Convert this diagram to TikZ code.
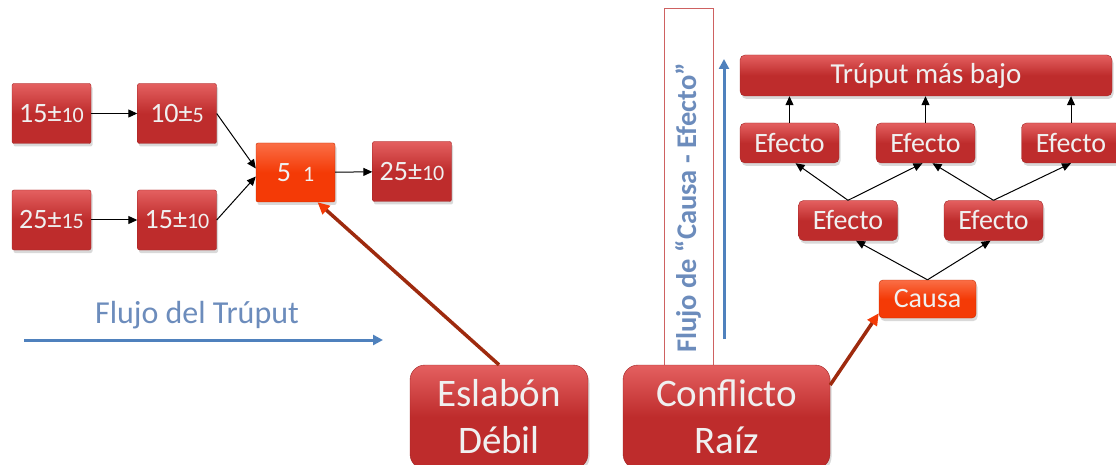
\documentclass[tikz,border=0pt]{standalone}
\usepackage{fontspec}
\setmainfont{Carlito}
\usetikzlibrary{arrows.meta,shadows}
\definecolor{rojo}{RGB}{190,44,44}
\definecolor{rojoclaro}{RGB}{228,96,96}
\definecolor{naranja}{RGB}{244,58,6}
\definecolor{naranjaclaro}{RGB}{250,110,70}
\definecolor{azul}{RGB}{79,129,189}
\definecolor{azulgris}{RGB}{108,140,188}
\definecolor{cafe}{RGB}{158,42,14}
\newcommand{\valor}[2]{\fontsize{28}{30}\selectfont #1±\fontsize{22}{24}\selectfont #2}

\begin{document}
\begin{tikzpicture}[x=1pt,y=-1pt,>={Triangle[length=9pt,width=8pt]}]
  \tikzstyle{caja}=[draw=rojo!85!black,top color=rojoclaro,bottom color=rojo,middle color=rojo,text=white!94!black,rounded corners=2pt,inner sep=0pt,minimum width=79pt,minimum height=60pt,drop shadow={opacity=0.3,shadow xshift=1.5pt,shadow yshift=-3pt}]
  \tikzstyle{causa}=[caja,draw=naranja!80!black,top color=naranjaclaro,bottom color=naranja,middle color=naranja]
  \tikzstyle{efecto}=[caja,rounded corners=5pt,minimum width=99pt,minimum height=40pt,font=\fontsize{28}{30}\selectfont]
  \tikzstyle{grande}=[caja,rounded corners=15pt,minimum height=104pt,align=center,font=\fontsize{39}{47}\selectfont]
  \tikzstyle{flecha}=[cafe,line width=3.5pt,-{Triangle[length=12pt,width=11pt,fill=naranja,color=naranja]}]
  \tikzstyle{liga}=[->,line width=1pt]

  \useasboundingbox (0,0) rectangle (1116,465);

  \foreach \name/\a/\b/\x/\y in {1/15/10/51.5/113.5, 2/10/5/177/113.5, 3/25/15/51.5/220, 4/15/10/177/220, 6/25/10/412/171.5}
    \node[caja] (G-\name) at (\x,\y) {\valor{\a}{\b}};
  \node[causa,minimum height=59pt] (G-5) at (295.5,172.5) {\fontsize{28}{30}\selectfont 5\hspace{12pt}\fontsize{22}{24}\selectfont 1};

  \draw[liga] (G-1) -- (G-2);
  \draw[liga] (G-3) -- (G-4);
  \draw[liga] (G-2.east) -- ([yshift=4pt]G-5.west);
  \draw[liga] (G-4.east) -- ([yshift=-4pt]G-5.west);
  \draw[liga] (G-5) -- (G-6);

  \node[text=azulgris,anchor=base,font=\fontsize{32}{34}\selectfont] (flujo) at (197,323) {Flujo del Trúput};
  \coordinate (flujo-a) at (24,340);
  \coordinate (flujo-b) at (383,340);
  \draw[azul,line width=3pt,-{Triangle[length=10pt,width=10pt]}] (flujo-a) -- (flujo-b);

  \node[draw=rojo!75,line width=1pt,minimum width=49pt,minimum height=361pt] (marco) at (688.5,189.5) {};
  \node[rotate=90,text=azulgris,font=\fontsize{28.5}{30}\selectfont\bfseries] (causaefecto) at (688,208) {Flujo de “Causa - Efecto”};
  \coordinate (sube-a) at (724,339);
  \coordinate (sube-b) at (724,59);
  \draw[azul,line width=3pt,-{Triangle[length=10pt,width=10pt]}] (sube-a) -- (sube-b);

  \node[caja,rounded corners=5pt,minimum width=372pt,minimum height=41pt,font=\fontsize{29}{30}\selectfont] (bajo) at (926,75.5) {Trúput más bajo};
  \node[efecto] (E-1) at (789.5,143) {Efecto};
  \node[efecto] (E-2) at (925.5,143) {Efecto};
  \node[efecto] (E-3) at (1071,143) {Efecto};
  \node[efecto] (E-4) at (848,220.5) {Efecto};
  \node[efecto] (E-5) at (993.5,220.5) {Efecto};
  \node[causa,rounded corners=4pt,minimum width=97pt,minimum height=38pt,font=\fontsize{28}{30}\selectfont] (C) at (927.5,299) {Causa};

  \foreach \e in {1,2,3}
    \draw[liga] (E-\e.north) -- (E-\e.north |- bajo.south);
  \draw[liga] (E-4.north) -- ([xshift=6pt]E-1.south);
  \draw[liga] (E-4.north) -- ([xshift=-3pt]E-2.south);
  \draw[liga] (E-5.north) -- ([xshift=7pt]E-2.south);
  \draw[liga] (E-5.north) -- (E-3.south);
  \draw[liga] (C.north) -- ([xshift=8pt]E-4.south);
  \draw[liga] (C.north) -- ([xshift=-3pt]E-5.south);

  \node[grande,minimum width=178pt] (eslabon) at (499,417) {Eslabón\\Débil};
  \node[grande,minimum width=207pt] (conflicto) at (726.5,417) {Conflicto\\Raíz};

  \draw[flecha] (eslabon.north) -- ([xshift=22pt]G-5.south);
  \draw[flecha] ([yshift=32pt]conflicto.east) -- ([yshift=5pt]C.south west);
\end{tikzpicture}
\end{document}
